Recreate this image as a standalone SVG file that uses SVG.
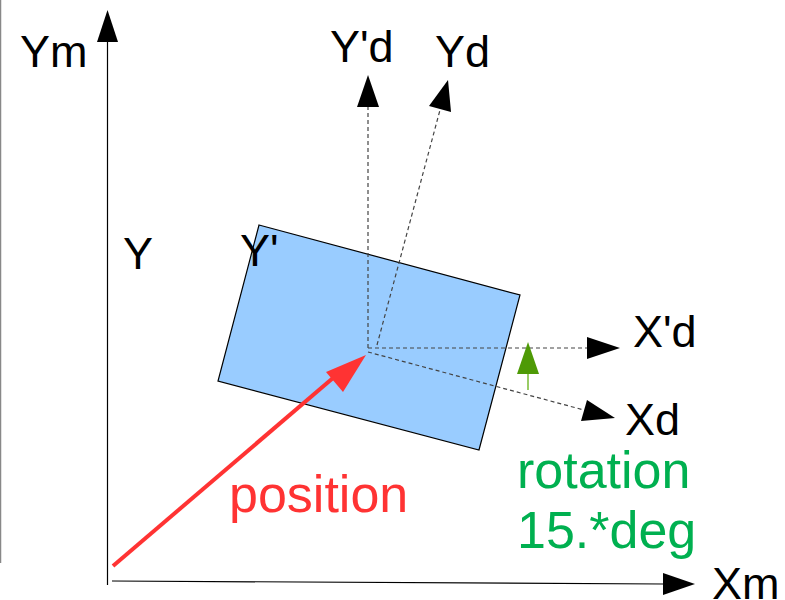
<svg xmlns="http://www.w3.org/2000/svg" width="785" height="600" viewBox="0 0 785 600">
<style>
.lbl{font-family:"Liberation Sans",Arial,sans-serif;font-size:45px;fill:#000}
.big{font-family:"Liberation Sans",Arial,sans-serif;font-size:52px}
.dash{stroke:#444;stroke-width:1.2;stroke-dasharray:4,3;fill:none}
</style>
<rect width="785" height="600" fill="#fff"/>
<line x1="0.5" y1="0" x2="0.5" y2="563" stroke="#888" stroke-width="1.5"/>
<g id="rect">
<polygon points="259,225 520,295 479,450 218,381" fill="#99ccff" stroke="#000" stroke-width="1.2"/>
</g>
<g id="connectors">
<line x1="107.5" y1="585" x2="107.5" y2="42" stroke="#000" stroke-width="1.2"/>
<polygon points="107.5,10 97,42 118,42" fill="#000"/>
<line x1="112" y1="581" x2="664" y2="584" stroke="#000" stroke-width="1.2"/>
<polygon points="695,584 663,573 663,595" fill="#000"/>
<line class="dash" x1="368" y1="348" x2="368" y2="107"/>
<polygon points="368,75 357,107 379,107" fill="#000"/>
<line class="dash" x1="377" y1="345" x2="440" y2="110"/>
<polygon points="448,80 429,106 451,112" fill="#000"/>
<line class="dash" x1="368" y1="348" x2="587" y2="348"/>
<polygon points="620,348 587,337 587,359" fill="#000"/>
<line class="dash" x1="368" y1="352" x2="584" y2="410"/>
<polygon points="615,418 581,421 587,400" fill="#000"/>
<line x1="113" y1="566" x2="340" y2="372" stroke="#ff3333" stroke-width="4"/>
<polygon points="366,355 326,372 343,392" fill="#ff3333"/>
<line x1="528" y1="390" x2="528" y2="372" stroke="#99cc66" stroke-width="2"/>
<polygon points="528,342 517,374 539,374" fill="#4e9a06"/>
</g>
<g id="labels">
<text class="lbl" x="20" y="67">Ym</text>
<text class="lbl" x="330" y="62">Y'd</text>
<text class="lbl" x="435" y="67">Yd</text>
<text class="lbl" x="123" y="269">Y</text>
<text class="lbl" x="240" y="266">Y'</text>
<text class="lbl" x="633" y="347">X'd</text>
<text class="lbl" x="625" y="435">Xd</text>
<text class="lbl" x="712" y="599">Xm</text>
<text class="big" x="229" y="512" fill="#ff3333">position</text>
<text class="big" x="517" y="488" fill="#00b050">rotation</text>
<text class="big" x="517" y="548" fill="#00b050">15.*deg</text>
</g>
</svg>
